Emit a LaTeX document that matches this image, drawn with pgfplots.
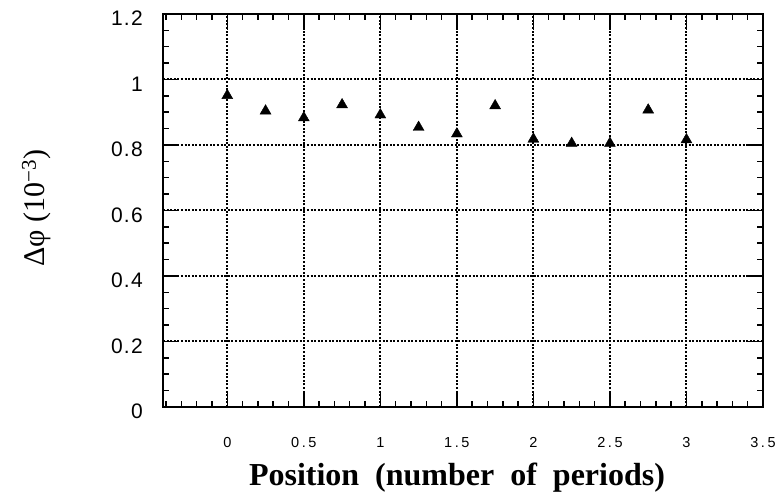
\documentclass[border=0pt]{standalone}
\usepackage{fontspec}
\setmainfont{Liberation Serif}
\newfontfamily\yfont[LetterSpace=6]{Liberation Sans}
\newfontfamily\xfont[LetterSpace=18]{Liberation Sans}
\usepackage{pgfplots}
\pgfplotsset{compat=1.18}
\begin{document}
\begin{tikzpicture}
\begin{axis}[
  at={(0,0)}, anchor=south west,
  scale only axis, width=600pt, height=393pt,
  xmin=-0.42, xmax=3.5, ymin=0, ymax=1.2,
  xtick={0,0.5,1,1.5,2,2.5,3,3.5},
  ytick={0,0.2,0.4,0.6,0.8,1,1.2},
  minor xtick={-0.4,-0.3,-0.2,-0.1,0.1,0.2,0.3,0.4,0.6,0.7,0.8,0.9,1.1,1.2,1.3,1.4,1.6,1.7,1.8,1.9,2.1,2.2,2.3,2.4,2.6,2.7,2.8,2.9,3.1,3.2,3.3,3.4},
  minor ytick={0.05,0.1,0.15,0.25,0.3,0.35,0.45,0.5,0.55,0.65,0.7,0.75,0.85,0.9,0.95,1.05,1.1,1.15},
  tick align=inside, tick pos=both,
  major tick length=16pt, minor tick length=6pt,
  axis line style={line width=2.5pt},
  every tick/.style={black, line width=1.5pt},
  grid=major,
  major grid style={black, line width=2pt, dash pattern=on 2pt off 1.6pt},
  /pgf/number format/assume math mode=true,
  /pgf/number format/fixed,
  xticklabel style={font=\xfont\fontsize{14.5}{16}\selectfont, anchor=base, inner sep=0pt, yshift=-41pt},
  yticklabel style={font=\yfont\fontsize{21}{24}\selectfont, anchor=east, inner sep=0pt, xshift=-20pt, yshift=-4.5pt},
  xlabel={\bfseries Position\hspace{0.5em}(number\hspace{0.5em}of\hspace{0.5em}periods)},
  xlabel style={font=\fontsize{32}{36}\selectfont, at={(axis description cs:0.49,-0.1985)}, anchor=base, inner sep=0pt},
  ylabel={Δφ (10\textsuperscript{−3})},
  ylabel style={font=\fontsize{30}{34}\selectfont, at={(axis description cs:-0.1967,0.506)}, anchor=base, inner sep=0pt},
]
\addplot[only marks, mark=triangle*, mark size=6.3pt, black] coordinates {
(0,0.951) (0.25,0.904) (0.5,0.883) (0.75,0.923) (1,0.892)
(1.25,0.854) (1.5,0.834) (1.75,0.920) (2,0.818) (2.25,0.805)
(2.5,0.805) (2.75,0.907) (3,0.816)
};
\end{axis}
\pgfresetboundingbox
\path[use as bounding box] (-163pt,-90pt) rectangle (616pt,407pt);
\end{tikzpicture}
\end{document}
